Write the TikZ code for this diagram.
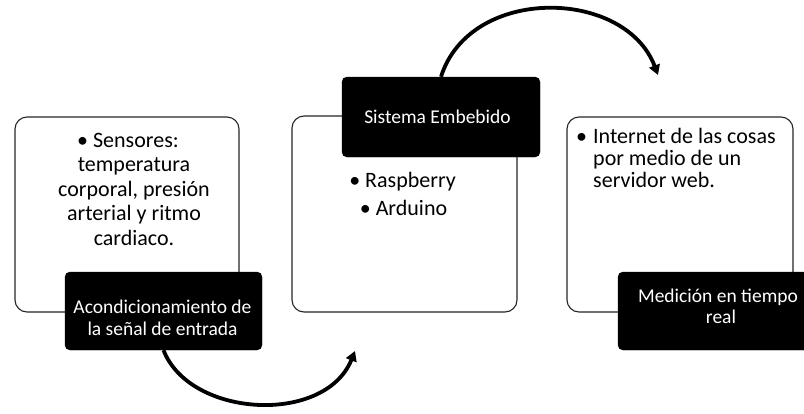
\documentclass[tikz,border=0pt]{standalone}
\usepackage{fontspec}
\setmainfont{Carlito}
\usetikzlibrary{arrows.meta}
\begin{document}
\begin{tikzpicture}[x=1pt,y=-1pt,
  whitebox/.style={draw=black!85,line width=1.1pt,rounded corners=12pt,fill=white},
  blackbox/.style={draw=black,fill=black,rounded corners=5pt},
  btext/.style={text=white,font=\fontsize{19.5}{22}\selectfont,anchor=base,inner sep=0pt},
  wtext/.style={text=black,font=\fontsize{22}{24}\selectfont,anchor=base,inner sep=0pt},
  flow/.style={line width=3.8pt,-{Triangle[length=10pt,width=11pt]}}]
\clip (0,0) rectangle (804,413);
\useasboundingbox (0,0) rectangle (804,413);
% white panels
\draw[whitebox] (15,117) rectangle (239,312);
\draw[whitebox] (292,116) rectangle (517,312);
\draw[whitebox] (567,117) rectangle (793,312);
% texts in panels
\node[wtext] (t1a) at (128,147) {\textbullet\ Sensores:};
\node[wtext] (t1b) at (134,171.5) {temperatura};
\node[wtext] (t1c) at (134,196) {corporal, presión};
\node[wtext] (t1d) at (134,220.5) {arterial y ritmo};
\node[wtext] (t1e) at (134,245) {cardiaco.};
\node[wtext] (t2a) at (402.5,187) {\textbullet\ Raspberry};
\node[wtext] (t2b) at (403.5,215) {\textbullet\ Arduino};
\node[wtext,anchor=base west] (t3b) at (576,143) {\textbullet};
\node[wtext,anchor=base west] (t3c) at (593,143) {Internet de las cosas};
\node[wtext,anchor=base west] (t3d) at (593,165) {por medio de un};
\node[wtext,anchor=base west] (t3e) at (593,187) {servidor web.};
% black boxes
\node[blackbox,minimum width=197pt,minimum height=78pt] (k1) at (163.5,311) {};
\node[btext] (k1a) at (162.5,313) {Acondicionamiento de};
\node[btext] (k1b) at (162.5,335) {la señal de entrada};
\node[blackbox,minimum width=198pt,minimum height=80pt] (k2) at (441,117) {};
\node[btext] (k2a) at (437.5,123) {Sistema Embebido};
\node[blackbox,minimum width=198pt,minimum height=78pt] (k3) at (717,311) {};
\node[btext] (k3a) at (718,302) {Medición en tiempo};
\node[btext] (k3b) at (721,323) {real};
% arrows
\coordinate (e1) at (355,351);
\coordinate (e2) at (658,75);
\draw[flow] (k1.south) .. controls (190,418) and (325,425) .. (e1);
\draw[flow] (k2.north) .. controls (470,-15) and (625,-12) .. (e2);
\end{tikzpicture}
\end{document}
